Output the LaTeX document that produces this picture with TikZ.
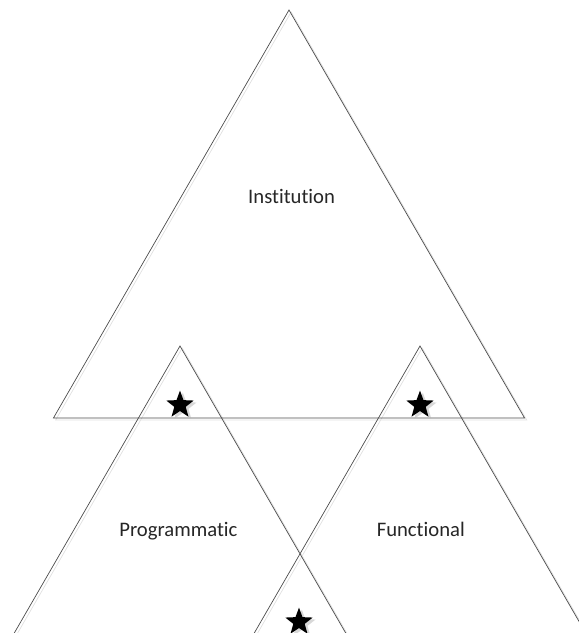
\documentclass[tikz,border=0pt]{standalone}
\usepackage{fontspec}
\setmainfont[Ligatures=NoCommon]{Carlito}
\usetikzlibrary{shapes.geometric,shadows}
\begin{document}
\begin{tikzpicture}[
  tri/.style={regular polygon, regular polygon sides=3, minimum size=13.6cm, inner sep=0pt, draw=black!70, line width=0.5pt},
  trishade/.style={tri, draw=black!12},
  badge/.style={star, star points=5, star point ratio=2.4, minimum size=0.72cm, inner sep=0pt, fill=black,
    drop shadow={shadow xshift=0.07cm, shadow yshift=-0.05cm, fill=black!30, opacity=0.5}},
  lbl/.style={anchor=base, font=\fontsize{14.7}{17}\selectfont, text=black!85}]
\useasboundingbox (0,0) rectangle (14.475,-15.825);
\clip (0,0) rectangle (14.475,-15.825);
% faint shadows of the triangles
\node[trishade] (instshade) at (7.28,-7.1) {};
\node[trishade] (progshade) at (4.555,-15.5) {};
\node[trishade] (funcshade) at (10.555,-15.5) {};
% triangles
\node[tri] (inst) at (7.225,-7.05) {};
\node[tri] (prog) at (4.5,-15.45) {};
\node[tri] (func) at (10.5,-15.45) {};
% labels
\node[lbl] (instlbl) at (7.29,-5.075) {Institution};
\node[lbl] (proglbl) at (4.46,-13.4) {Programmatic};
\node[lbl] (funclbl) at (10.52,-13.4) {Functional};
% stars
\node[badge] (s1) at (4.5,-10.125) {};
\node[badge] (s2) at (10.5,-10.125) {};
\node[badge] (s3) at (7.475,-15.55) {};
\end{tikzpicture}
\end{document}
